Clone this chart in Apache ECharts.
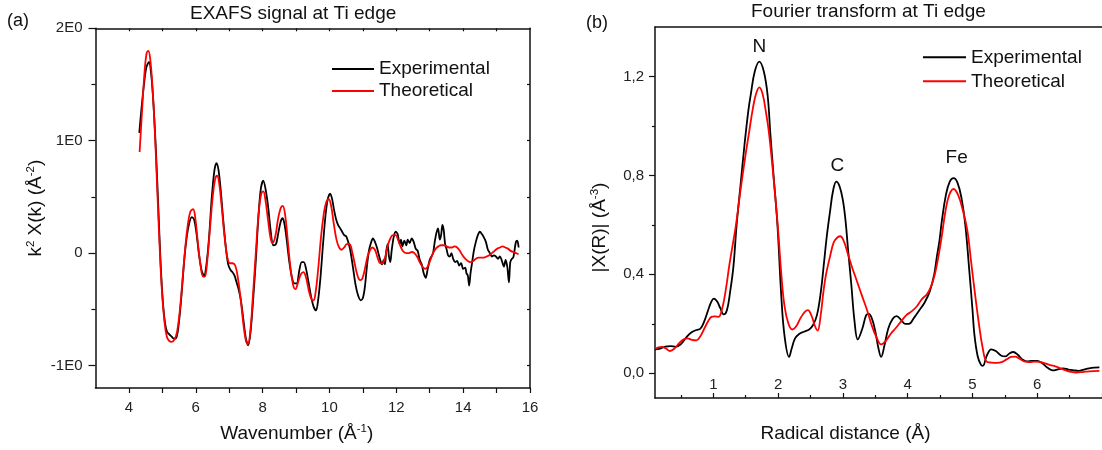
<!DOCTYPE html>
<html>
<head>
<meta charset="utf-8">
<script src="https://cdn.jsdelivr.net/npm/echarts@6/dist/echarts.min.js"></script>
<style>
  html, body { margin: 0; padding: 0; background: #ffffff; }
  #chart { width: 1102px; height: 450px; }
</style>
</head>
<body>
<div id="chart"></div>
<script>
// ---- Panel (a): k^2-weighted EXAFS signal ----
const kExp = [4.31,4.38,4.45,4.52,4.60,4.67,4.74,4.81,4.88,4.95,5.02,5.08,5.14,5.20,5.27,5.34,5.40,5.46,5.52,5.58,5.65,5.72,5.80,5.88,5.95,6.02,6.10,6.18,6.25,6.32,6.40,6.48,6.56,6.62,6.68,6.75,6.82,6.90,6.97,7.04,7.10,7.16,7.22,7.28,7.35,7.42,7.50,7.57,7.64,7.72,7.80,7.88,7.95,8.02,8.10,8.17,8.24,8.32,8.40,8.47,8.54,8.60,8.66,8.72,8.80,8.88,8.95,9.02,9.10,9.17,9.23,9.30,9.38,9.46,9.53,9.60,9.66,9.73,9.80,9.88,9.95,10.02,10.08,10.14,10.20,10.26,10.32,10.38,10.44,10.50,10.56,10.62,10.70,10.78,10.86,10.94,11.00,11.06,11.12,11.18,11.24,11.30,11.36,11.42,11.48,11.54,11.58,11.62,11.66,11.70,11.74,11.78,11.82,11.86,11.92,11.98,12.04,12.10,12.14,12.18,12.24,12.30,12.34,12.40,12.46,12.52,12.58,12.64,12.70,12.76,12.82,12.88,12.94,13.00,13.05,13.10,13.15,13.20,13.25,13.30,13.34,13.38,13.42,13.46,13.50,13.55,13.60,13.65,13.70,13.76,13.82,13.88,13.94,14.00,14.06,14.10,14.14,14.18,14.22,14.26,14.32,14.38,14.44,14.50,14.56,14.62,14.68,14.74,14.80,14.86,14.92,14.98,15.04,15.10,15.16,15.22,15.27,15.32,15.37,15.41,15.46,15.50,15.54,15.58,15.62,15.66];
const chiExp = [1.07,1.30,1.50,1.65,1.70,1.58,1.30,0.90,0.40,-0.10,-0.45,-0.62,-0.70,-0.72,-0.74,-0.76,-0.76,-0.70,-0.55,-0.35,-0.08,0.12,0.26,0.32,0.30,0.18,-0.02,-0.16,-0.20,-0.10,0.15,0.50,0.74,0.80,0.74,0.55,0.30,0.05,-0.10,-0.15,-0.17,-0.20,-0.26,-0.32,-0.42,-0.58,-0.76,-0.82,-0.70,-0.40,-0.05,0.35,0.58,0.645,0.55,0.40,0.20,0.07,0.08,0.18,0.28,0.31,0.25,0.12,-0.08,-0.22,-0.27,-0.27,-0.15,-0.08,-0.08,-0.14,-0.27,-0.40,-0.48,-0.51,-0.42,-0.22,0.05,0.33,0.48,0.53,0.48,0.38,0.30,0.25,0.22,0.19,0.16,0.15,0.10,0.03,-0.12,-0.28,-0.38,-0.42,-0.40,-0.30,-0.12,0.02,0.09,0.13,0.10,0.05,-0.02,-0.08,-0.10,-0.06,-0.10,0.02,0.08,-0.03,-0.08,0.02,0.14,0.19,0.17,0.08,0.12,0.06,0.11,0.07,0.12,0.09,0.13,0.10,0.04,0.02,-0.06,-0.10,-0.18,-0.22,-0.14,-0.06,-0.03,0.00,0.10,0.18,0.22,0.12,0.16,0.25,0.20,0.08,0.04,-0.02,-0.03,0.00,-0.05,-0.08,-0.07,-0.11,-0.09,-0.14,-0.13,-0.18,-0.20,-0.29,-0.18,-0.10,0.02,0.10,0.16,0.19,0.17,0.14,0.10,0.03,0.00,-0.03,-0.02,-0.03,-0.05,-0.03,-0.07,-0.12,-0.06,-0.12,-0.26,-0.08,-0.05,-0.04,0.03,0.10,0.11,0.05];
const kFit = [4.32,4.40,4.47,4.53,4.58,4.64,4.71,4.78,4.85,4.92,4.99,5.06,5.13,5.20,5.28,5.36,5.44,5.52,5.60,5.68,5.76,5.84,5.92,5.99,6.06,6.14,6.22,6.27,6.34,6.42,6.50,6.58,6.64,6.70,6.78,6.86,6.94,7.02,7.10,7.18,7.26,7.34,7.42,7.50,7.56,7.63,7.71,7.80,7.88,7.96,8.02,8.08,8.16,8.24,8.30,8.38,8.46,8.54,8.60,8.67,8.75,8.83,8.91,8.98,9.06,9.14,9.22,9.30,9.38,9.46,9.52,9.58,9.66,9.74,9.82,9.90,9.98,10.05,10.13,10.21,10.29,10.36,10.44,10.52,10.60,10.68,10.76,10.84,10.92,10.98,11.06,11.14,11.22,11.28,11.36,11.44,11.52,11.58,11.66,11.74,11.82,11.90,11.98,12.06,12.14,12.22,12.30,12.38,12.46,12.54,12.62,12.70,12.78,12.86,12.94,13.02,13.10,13.18,13.26,13.34,13.42,13.50,13.58,13.66,13.74,13.82,13.90,13.98,14.06,14.14,14.22,14.30,14.38,14.46,14.54,14.62,14.70,14.78,14.86,14.94,15.02,15.10,15.18,15.26,15.34,15.42,15.50,15.58,15.66];
const chiFit = [0.90,1.30,1.62,1.78,1.80,1.72,1.45,1.05,0.55,0.05,-0.35,-0.60,-0.74,-0.78,-0.79,-0.77,-0.70,-0.52,-0.25,0.03,0.25,0.37,0.39,0.30,0.10,-0.10,-0.21,-0.21,-0.08,0.20,0.48,0.66,0.69,0.62,0.40,0.15,-0.03,-0.09,-0.09,-0.11,-0.22,-0.40,-0.62,-0.78,-0.81,-0.70,-0.38,0.02,0.35,0.53,0.55,0.48,0.30,0.13,0.09,0.15,0.30,0.40,0.42,0.35,0.12,-0.12,-0.28,-0.32,-0.26,-0.19,-0.17,-0.22,-0.33,-0.41,-0.42,-0.36,-0.15,0.12,0.33,0.45,0.48,0.42,0.26,0.12,0.05,0.03,0.05,0.08,0.08,0.01,-0.10,-0.20,-0.24,-0.23,-0.14,-0.03,0.03,0.05,0.03,-0.04,-0.09,-0.09,-0.04,0.06,0.13,0.16,0.16,0.11,0.05,0.01,0.00,0.00,0.01,0.00,-0.03,-0.08,-0.12,-0.14,-0.12,-0.06,0.00,0.04,0.06,0.07,0.07,0.06,0.05,0.05,0.06,0.05,0.02,-0.02,-0.05,-0.07,-0.08,-0.07,-0.05,-0.04,-0.04,-0.04,-0.03,-0.02,0.00,0.02,0.04,0.05,0.06,0.05,0.04,0.02,0.01,0.00,-0.01];

// ---- Panel (b): magnitude of the Fourier transform ----
const rExp = [0.10,0.18,0.26,0.34,0.42,0.50,0.58,0.66,0.74,0.80,0.86,0.92,0.97,1.01,1.06,1.11,1.16,1.21,1.26,1.31,1.36,1.42,1.48,1.54,1.58,1.64,1.71,1.78,1.84,1.88,1.93,1.99,2.05,2.10,2.17,2.21,2.26,2.32,2.40,2.48,2.54,2.60,2.66,2.71,2.75,2.80,2.85,2.90,2.95,3.00,3.04,3.08,3.13,3.18,3.23,3.30,3.36,3.40,3.45,3.50,3.55,3.59,3.64,3.70,3.77,3.83,3.90,3.96,4.02,4.10,4.18,4.26,4.34,4.41,4.45,4.49,4.53,4.59,4.65,4.71,4.77,4.83,4.89,4.95,5.00,5.03,5.08,5.13,5.16,5.22,5.29,5.36,5.44,5.51,5.57,5.63,5.70,5.77,5.84,5.92,6.00,6.08,6.16,6.24,6.32,6.40,6.48,6.56,6.64,6.72,6.80,6.88,6.96];
const ftExp = [0.097,0.100,0.108,0.110,0.107,0.118,0.144,0.165,0.175,0.180,0.210,0.255,0.290,0.302,0.290,0.262,0.238,0.255,0.330,0.430,0.600,0.760,0.920,1.060,1.130,1.220,1.260,1.220,1.120,0.970,0.800,0.600,0.310,0.150,0.066,0.100,0.140,0.158,0.168,0.177,0.195,0.235,0.330,0.450,0.550,0.650,0.740,0.775,0.755,0.700,0.620,0.500,0.360,0.210,0.137,0.180,0.235,0.240,0.220,0.170,0.100,0.066,0.110,0.180,0.220,0.231,0.215,0.200,0.200,0.225,0.255,0.285,0.330,0.400,0.470,0.534,0.620,0.720,0.775,0.789,0.770,0.710,0.600,0.420,0.260,0.157,0.070,0.035,0.030,0.070,0.097,0.090,0.072,0.068,0.080,0.086,0.075,0.056,0.048,0.050,0.050,0.040,0.022,0.012,0.016,0.020,0.015,0.012,0.010,0.015,0.020,0.023,0.024];
const rFit = [0.10,0.20,0.27,0.33,0.40,0.48,0.55,0.60,0.67,0.74,0.80,0.86,0.92,0.97,1.02,1.08,1.14,1.20,1.245,1.30,1.35,1.42,1.49,1.55,1.61,1.66,1.71,1.76,1.81,1.86,1.93,2.00,2.05,2.10,2.16,2.22,2.28,2.35,2.42,2.46,2.52,2.57,2.61,2.66,2.70,2.74,2.80,2.86,2.92,2.96,3.02,3.08,3.14,3.22,3.30,3.38,3.45,3.52,3.59,3.66,3.74,3.82,3.90,3.98,4.06,4.14,4.22,4.30,4.36,4.42,4.48,4.53,4.58,4.64,4.71,4.78,4.85,4.92,4.98,5.04,5.10,5.16,5.22,5.30,5.38,5.45,5.52,5.60,5.66,5.72,5.80,5.88,5.96,6.04,6.12,6.20,6.28,6.36,6.44,6.52,6.60,6.70,6.80,6.96];
const ftFit = [0.100,0.107,0.100,0.090,0.100,0.124,0.138,0.141,0.135,0.133,0.150,0.180,0.210,0.228,0.230,0.228,0.265,0.350,0.433,0.520,0.600,0.740,0.870,0.970,1.070,1.130,1.156,1.130,1.060,0.970,0.790,0.580,0.400,0.270,0.200,0.177,0.190,0.225,0.250,0.255,0.230,0.190,0.173,0.240,0.330,0.400,0.470,0.530,0.550,0.554,0.530,0.480,0.430,0.370,0.310,0.250,0.190,0.145,0.117,0.130,0.160,0.184,0.210,0.235,0.250,0.270,0.300,0.320,0.350,0.400,0.480,0.560,0.650,0.720,0.745,0.720,0.660,0.580,0.450,0.320,0.200,0.100,0.047,0.043,0.042,0.045,0.055,0.066,0.067,0.060,0.048,0.045,0.047,0.046,0.040,0.033,0.028,0.020,0.012,0.006,0.003,0.005,0.008,0.010];

// Scattering-shell labels above the main peaks
const peakNames = ['N', 'C', 'Fe'];
const peakR = [1.712, 2.915, 4.757];
const peakLabelY = [1.32, 0.839, 0.871];

// Tick positions and labels
const kTickValues = [4,5,6,7,8,9,10,11,12,13,14,15,16];
const kTopTicks = [4,5,6,7,8,9,10,11,12,13,14,15];
const kLabelValues = [4,6,8,10,12,14,16];
const chiMajor = [-1,0,1,2];
const chiMinor = [-0.5,0.5,1.5];
const chiRightTicks = [-1,-0.5,0,0.5,1,1.5];
const rMajor = [1,2,3,4,5,6,7];
const rMinor = [0.5,1.5,2.5,3.5,4.5,5.5,6.5];
const rLabelValues = [1,2,3,4,5,6];
const ftMajor = [0,0.4,0.8,1.2];
const ftMinor = [0.2,0.6,1.0];

const FONT = '"Liberation Sans", Arial, Helvetica, sans-serif';
const INK = '#111';
const zip = (xs, ys) => xs.map((x, i) => [x, ys[i]]);

const lineAxis = { show: true, onZero: false, lineStyle: { color: INK, width: 1.5 } };
const noLine = { show: false, onZero: false };
const tickLabel = { color: '#222', fontSize: 15, fontFamily: FONT };
const supRich = { sup: { fontSize: 11.5, lineHeight: 11, verticalAlign: 'top', fontFamily: FONT, color: INK } };
const nameStyle = (extra) => Object.assign({
  fontSize: 19, fontFamily: FONT, color: INK, lineHeight: 22, rich: supRich
}, extra || {});

const chart = echarts.init(document.getElementById('chart'), null, { renderer: 'canvas' });

const option = {
  animation: false,
  backgroundColor: '#ffffff',
  textStyle: { fontFamily: FONT },
  title: [
    { text: 'EXAFS signal at Ti edge', left: 190, top: 4, padding: 0,
      textStyle: { fontSize: 19, fontWeight: 'normal', color: INK, fontFamily: FONT } },
    { text: 'Fourier transform at Ti edge', left: 751, top: 2, padding: 0,
      textStyle: { fontSize: 19, fontWeight: 'normal', color: INK, fontFamily: FONT } },
    { text: '(a)', left: 7, top: 12, padding: 0,
      textStyle: { fontSize: 18, fontWeight: 'normal', color: INK, fontFamily: FONT } },
    { text: '(b)', left: 586, top: 14, padding: 0,
      textStyle: { fontSize: 18, fontWeight: 'normal', color: INK, fontFamily: FONT } }
  ],
  legend: [
    { data: ['Experimental', 'Theoretical'], orient: 'vertical', left: 332, top: 59.5,
      icon: 'rect', itemWidth: 42, itemHeight: 2, itemGap: 3, padding: 0,
      textStyle: { fontSize: 19, lineHeight: 19, color: INK, fontFamily: FONT } },
    { data: ['Experimental', 'Theoretical'], orient: 'vertical', left: 923, top: 47.8,
      icon: 'rect', itemWidth: 43, itemHeight: 2, itemGap: 5, padding: 0,
      textStyle: { fontSize: 19, lineHeight: 19, color: INK, fontFamily: FONT } }
  ],
  grid: [
    { left: 95.5, top: 28.3, width: 434.5, height: 361, containLabel: false },
    { left: 655, top: 27, width: 451.8, height: 371.3, containLabel: false }
  ],
  xAxis: [
    { // (a) bottom
      gridIndex: 0, type: 'value', position: 'bottom', min: 3, max: 16,
      axisLine: lineAxis,
      axisTick: { show: true, length: 5, customValues: kTickValues, lineStyle: { color: INK, width: 1.2 } },
      axisLabel: Object.assign({ margin: 12, customValues: kLabelValues }, tickLabel),
      splitLine: { show: false },
      name: 'Wavenumber (Å{sup|-1})', nameLocation: 'middle', nameGap: 35,
      nameTextStyle: nameStyle({ padding: [0, 32, 0, 0] })
    },
    { // (a) top frame
      gridIndex: 0, type: 'value', position: 'top', min: 3, max: 16,
      axisLine: lineAxis,
      axisTick: { show: true, inside: true, length: 3, customValues: kTopTicks, lineStyle: { color: INK, width: 1.2 } },
      axisLabel: { show: false }, splitLine: { show: false }
    },
    { // (b) bottom, major ticks with labels inside
      gridIndex: 1, type: 'value', position: 'bottom', min: 0.1, max: 7.0,
      axisLine: lineAxis,
      axisTick: { show: true, inside: true, length: 5, customValues: rMajor, lineStyle: { color: INK, width: 1.2 } },
      axisLabel: Object.assign({ inside: true, margin: 6, customValues: rLabelValues }, tickLabel),
      splitLine: { show: false },
      name: 'Radical distance (Å)', nameLocation: 'middle', nameGap: 25,
      nameTextStyle: nameStyle({ padding: [0, 66, 0, 0] })
    },
    { // (b) bottom, minor ticks
      gridIndex: 1, type: 'value', position: 'bottom', min: 0.1, max: 7.0,
      axisLine: noLine,
      axisTick: { show: true, inside: true, length: 3, customValues: rMinor, lineStyle: { color: INK, width: 1.2 } },
      axisLabel: { show: false }, splitLine: { show: false }
    },
    { // (b) top frame
      gridIndex: 1, type: 'value', position: 'top', min: 0.1, max: 7.0,
      axisLine: lineAxis, axisTick: { show: false },
      axisLabel: { show: false }, splitLine: { show: false }
    }
  ],
  yAxis: [
    { // (a) left, major
      gridIndex: 0, type: 'value', position: 'left', min: -1.2, max: 2,
      axisLine: lineAxis,
      axisTick: { show: true, length: 7, customValues: chiMajor, lineStyle: { color: INK, width: 1.2 } },
      axisLabel: Object.assign({ margin: 13, customValues: chiMajor,
        formatter: (v) => (v === 0 ? '0' : v + 'E0') }, tickLabel),
      splitLine: { show: false },
      name: 'k{sup|2} X(k) (Å{sup|-2})', nameLocation: 'middle', nameGap: 48,
      nameTextStyle: nameStyle()
    },
    { // (a) left, minor
      gridIndex: 0, type: 'value', position: 'left', min: -1.2, max: 2,
      axisLine: noLine,
      axisTick: { show: true, length: 4, customValues: chiMinor, lineStyle: { color: INK, width: 1.2 } },
      axisLabel: { show: false }, splitLine: { show: false }
    },
    { // (a) right frame
      gridIndex: 0, type: 'value', position: 'right', min: -1.2, max: 2,
      axisLine: lineAxis,
      axisTick: { show: true, inside: true, length: 3, customValues: chiRightTicks, lineStyle: { color: INK, width: 1.2 } },
      axisLabel: { show: false }, splitLine: { show: false }
    },
    { // (b) left, major
      gridIndex: 1, type: 'value', position: 'left', min: -0.1, max: 1.4,
      axisLine: lineAxis,
      axisTick: { show: true, length: 6, customValues: ftMajor, lineStyle: { color: INK, width: 1.2 } },
      axisLabel: Object.assign({ margin: 11, customValues: ftMajor,
        formatter: (v) => v.toFixed(1).replace('.', ',') }, tickLabel),
      splitLine: { show: false },
      name: '|X(R)| (Å{sup|-3})', nameLocation: 'middle', nameGap: 44,
      nameTextStyle: nameStyle({ padding: [0, 30, 0, 0] })
    },
    { // (b) left, minor
      gridIndex: 1, type: 'value', position: 'left', min: -0.1, max: 1.4,
      axisLine: noLine,
      axisTick: { show: true, length: 3, customValues: ftMinor, lineStyle: { color: INK, width: 1.2 } },
      axisLabel: { show: false }, splitLine: { show: false }
    }
  ],
  series: [
    { name: 'Experimental', type: 'line', xAxisIndex: 0, yAxisIndex: 0,
      data: zip(kExp, chiExp), symbol: 'none', smooth: 0.3,
      lineStyle: { color: '#000000', width: 1.8 }, itemStyle: { color: '#000000' } },
    { name: 'Theoretical', type: 'line', xAxisIndex: 0, yAxisIndex: 0,
      data: zip(kFit, chiFit), symbol: 'none', smooth: 0.4,
      lineStyle: { color: '#ff0000', width: 1.8 }, itemStyle: { color: '#ff0000' } },
    { name: 'Experimental', type: 'line', xAxisIndex: 2, yAxisIndex: 3,
      data: zip(rExp, ftExp), symbol: 'none', smooth: 0.4,
      lineStyle: { color: '#000000', width: 1.8 }, itemStyle: { color: '#000000' } },
    { name: 'Theoretical', type: 'line', xAxisIndex: 2, yAxisIndex: 3,
      data: zip(rFit, ftFit), symbol: 'none', smooth: 0.4,
      lineStyle: { color: '#ff0000', width: 1.8 }, itemStyle: { color: '#ff0000' } },
    { name: 'shells', type: 'scatter', xAxisIndex: 2, yAxisIndex: 3,
      symbolSize: 0, silent: true, itemStyle: { opacity: 1, color: INK },
      data: peakNames.map((n, i) => ({ name: n, value: [peakR[i], peakLabelY[i]] })),
      label: { show: true, position: 'inside', formatter: '{b}', opacity: 1,
        fontSize: 19, color: INK, fontFamily: FONT } }
  ]
};

chart.setOption(option);
</script>
</body>
</html>
